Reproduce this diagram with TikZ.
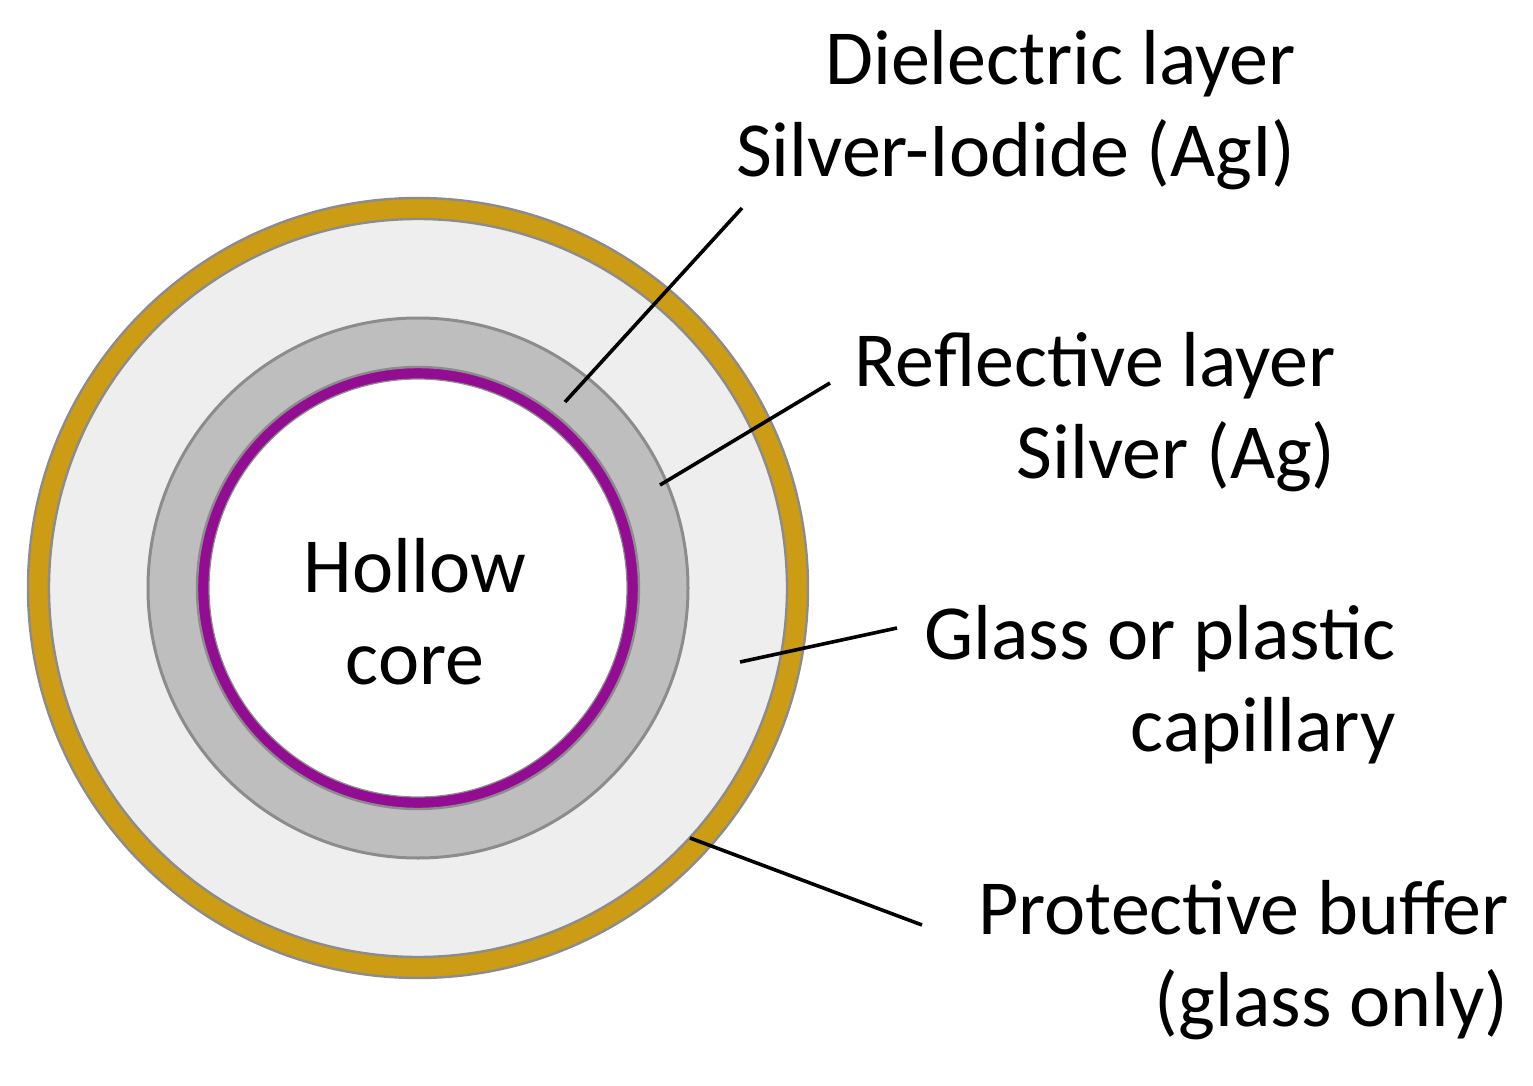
\documentclass[tikz,border=0pt]{standalone}
\usepackage{fontspec}
\setmainfont{Carlito}
\definecolor{gold}{HTML}{CC9C14}
\definecolor{lite}{HTML}{EEEEEE}
\definecolor{mid}{HTML}{BEBEBE}
\definecolor{edge}{HTML}{8C8C8C}
\definecolor{purp}{HTML}{930D93}
\begin{document}
\begin{tikzpicture}[x=0.5pt,y=-0.5pt,
  lab/.style={font=\fontsize{39}{46}\selectfont,align=right,inner sep=0pt},
  lead/.style={line width=1.8pt,black}]
\useasboundingbox (0,0) rectangle (1533,1086);
\fill[white] (0,0) rectangle (1533,1086);
\coordinate (c) at (418,588);
\draw[edge,line width=1.2pt,fill=gold] (c) circle[radius=390];
\draw[edge,line width=1.2pt,fill=lite] (c) circle[radius=369];
\draw[edge,line width=1.5pt,fill=mid] (c) circle[radius=270];
\draw[edge,line width=1.2pt,fill=purp] (c) circle[radius=221];
\draw[edge,line width=0.6pt,fill=white] (c) circle[radius=209];
\node[lab,align=center] (core) at (415,612) {Hollow\\core};
\node[lab,anchor=north east] (diel) at (1296,30) {Dielectric layer\\Silver-Iodide (AgI)};
\node[lab,anchor=north east] (refl) at (1336,332) {Reflective layer\\Silver (Ag)};
\node[lab,anchor=north east] (glass) at (1396,605) {Glass or plastic\\capillary};
\node[lab,anchor=north east] (prot) at (1509,880) {Protective buffer\\(glass only)};
\coordinate (d1) at (742,208); \coordinate (d2) at (565,402);
\coordinate (r1) at (830,383); \coordinate (r2) at (660,485);
\coordinate (g1) at (897,628); \coordinate (g2) at (740,662);
\coordinate (p1) at (922,925); \coordinate (p2) at (690,838);
\draw[lead] (d1)--(d2); \draw[lead] (r1)--(r2);
\draw[lead] (g1)--(g2); \draw[lead] (p1)--(p2);
\end{tikzpicture}
\end{document}
